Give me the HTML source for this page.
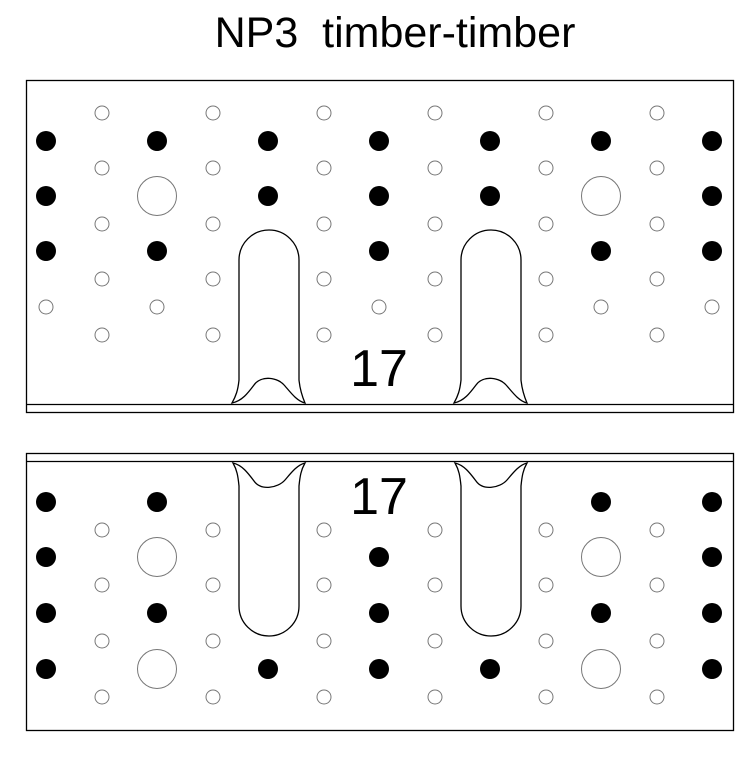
<!DOCTYPE html>
<html><head><meta charset="utf-8"><style>body{margin:0;background:#fff}</style></head><body>
<svg width="756" height="764" xmlns="http://www.w3.org/2000/svg" font-family="Liberation Sans, sans-serif">
<defs>
<g id="sr" fill="none" stroke="#777" stroke-width="1">
<circle cx="102" cy="0" r="7"/><circle cx="213" cy="0" r="7"/><circle cx="324" cy="0" r="7"/><circle cx="435" cy="0" r="7"/><circle cx="546" cy="0" r="7"/><circle cx="657" cy="0" r="7"/>
</g>
</defs>
<rect width="756" height="764" fill="#fff"/>
<text x="395" y="47" font-size="43" text-anchor="middle" fill="#000" xml:space="preserve">NP3  timber-timber</text>
<g fill="none" stroke="#000" stroke-width="1.3">
<rect x="26.5" y="80.5" width="707" height="332"/>
<line x1="26" y1="404.5" x2="733" y2="404.5"/>
<rect x="26.5" y="453.5" width="707" height="277"/>
<line x1="26" y1="461.5" x2="733" y2="461.5"/>
<path d="M232,403 C236,396 238,390 239,380 L239,260 A30,30 0 0 1 299,260 L299,380 C300,390 302,396 305,403 C297,401 291,393 285,386 C278,377 261,375 254,385 C248,393 242,401 232,403 Z"/>
<path transform="translate(222,0)" d="M232,403 C236,396 238,390 239,380 L239,260 A30,30 0 0 1 299,260 L299,380 C300,390 302,396 305,403 C297,401 291,393 285,386 C278,377 261,375 254,385 C248,393 242,401 232,403 Z"/>
<path d="M233,463 C237,470 238,476 239,486 L239,606 A30,30 0 0 0 299,606 L299,486 C300,476 301,470 305,463 C297,465 291,473 285,480 C278,488 261,491 254,481 C248,473 242,465 233,463 Z"/>
<path transform="translate(222,0)" d="M233,463 C237,470 238,476 239,486 L239,606 A30,30 0 0 0 299,606 L299,486 C300,476 301,470 305,463 C297,465 291,473 285,480 C278,488 261,491 254,481 C248,473 242,465 233,463 Z"/>
</g>
<use href="#sr" y="113"/><use href="#sr" y="168"/><use href="#sr" y="224"/><use href="#sr" y="279"/><use href="#sr" y="335"/>
<use href="#sr" y="530"/><use href="#sr" y="585"/><use href="#sr" y="641"/><use href="#sr" y="697"/>
<g fill="none" stroke="#777" stroke-width="1">
<circle cx="46" cy="307" r="7"/><circle cx="157" cy="307" r="7"/><circle cx="379" cy="307" r="7"/><circle cx="601" cy="307" r="7"/><circle cx="712" cy="307" r="7"/>
<circle cx="157" cy="196" r="19.5"/><circle cx="601" cy="196" r="19.5"/>
<circle cx="157" cy="557" r="19.5"/><circle cx="601" cy="557" r="19.5"/>
<circle cx="157" cy="669" r="19.5"/><circle cx="601" cy="669" r="19.5"/>
</g>
<g fill="#000">
<circle cx="46" cy="141" r="10"/><circle cx="157" cy="141" r="10"/><circle cx="268" cy="141" r="10"/><circle cx="379" cy="141" r="10"/><circle cx="490" cy="141" r="10"/><circle cx="601" cy="141" r="10"/><circle cx="712" cy="141" r="10"/>
<circle cx="46" cy="196" r="10"/><circle cx="268" cy="196" r="10"/><circle cx="379" cy="196" r="10"/><circle cx="490" cy="196" r="10"/><circle cx="712" cy="196" r="10"/>
<circle cx="46" cy="251" r="10"/><circle cx="157" cy="251" r="10"/><circle cx="379" cy="251" r="10"/><circle cx="601" cy="251" r="10"/><circle cx="712" cy="251" r="10"/>
<circle cx="46" cy="502" r="10"/><circle cx="157" cy="502" r="10"/><circle cx="601" cy="502" r="10"/><circle cx="712" cy="502" r="10"/>
<circle cx="46" cy="557" r="10"/><circle cx="379" cy="557" r="10"/><circle cx="712" cy="557" r="10"/>
<circle cx="46" cy="613" r="10"/><circle cx="157" cy="613" r="10"/><circle cx="379" cy="613" r="10"/><circle cx="601" cy="613" r="10"/><circle cx="712" cy="613" r="10"/>
<circle cx="46" cy="669" r="10"/><circle cx="268" cy="669" r="10"/><circle cx="379" cy="669" r="10"/><circle cx="490" cy="669" r="10"/><circle cx="712" cy="669" r="10"/>
</g>
<text x="379" y="386" font-size="52" text-anchor="middle" fill="#000">17</text>
<text x="379" y="514" font-size="52" text-anchor="middle" fill="#000">17</text>
</svg>
</body></html>
